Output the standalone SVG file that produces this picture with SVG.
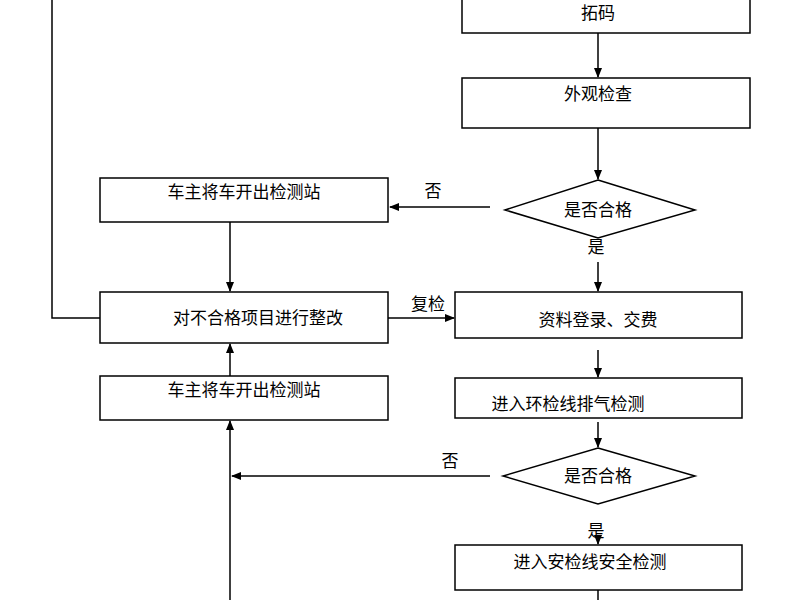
<svg xmlns="http://www.w3.org/2000/svg" width="800" height="600" viewBox="0 0 800 600">
<defs>
<marker id="a" markerWidth="10" markerHeight="10" refX="9" refY="5" orient="auto" markerUnits="userSpaceOnUse"><path d="M0,1 L10,5 L0,9 Z" fill="#000"/></marker>
<style>
.b{fill:#fff;stroke:#000;stroke-width:1.5}
.t{font-family:"Noto Sans CJK SC","Noto Sans",sans-serif;font-size:17px;fill:#000;text-anchor:middle}
.l{stroke:#000;stroke-width:1.5;fill:none}
.ar{stroke:#000;stroke-width:1.5;fill:none;marker-end:url(#a)}
</style>
</defs>
<rect width="800" height="600" fill="#fff"/>
<g id="n1"><rect class="b" x="462" y="-10" width="288" height="43"/><text class="t" x="598" y="19">拓码</text></g>
<g id="n2"><rect class="b" x="462" y="78" width="288" height="50"/><text class="t" x="598" y="100">外观检查</text></g>
<g id="n3"><polygon class="b" points="598,180 695,210 598,238 505,210"/><text class="t" x="598" y="216">是否合格</text></g>
<g id="n4"><rect class="b" x="100" y="178" width="288" height="44"/><text class="t" x="244" y="198">车主将车开出检测站</text></g>
<g id="n5"><rect class="b" x="100" y="292" width="288" height="51"/><text class="t" x="258" y="324">对不合格项目进行整改</text></g>
<g id="n6"><rect class="b" x="455" y="292" width="287" height="46"/><text class="t" x="598" y="326">资料登录、交费</text></g>
<g id="n7"><rect class="b" x="455" y="378" width="287" height="40"/><text class="t" x="568" y="410">进入环检线排气检测</text></g>
<g id="n8"><polygon class="b" points="598,448 695,476 598,504 503,476"/><text class="t" x="598" y="482">是否合格</text></g>
<g id="n9"><rect class="b" x="100" y="376" width="288" height="44"/><text class="t" x="244" y="396">车主将车开出检测站</text></g>
<g id="n10"><rect class="b" x="455" y="545" width="287" height="45"/><text class="t" x="590" y="568">进入安检线安全检测</text></g>
<g id="edges">
<line class="ar" x1="598" y1="33" x2="598" y2="77"/>
<line class="ar" x1="598" y1="128" x2="598" y2="179"/>
<line class="ar" x1="490" y1="207" x2="390" y2="207"/>
<text class="t" x="433" y="197">否</text>
<text class="t" x="596" y="253">是</text>
<line class="ar" x1="598" y1="262" x2="598" y2="291"/>
<line class="ar" x1="230" y1="222" x2="230" y2="291"/>
<polyline class="l" points="100,318 52,318 52,0"/>
<line class="ar" x1="388" y1="318" x2="454" y2="318"/>
<text class="t" x="428" y="310">复检</text>
<line class="ar" x1="598" y1="350" x2="598" y2="377"/>
<line class="ar" x1="598" y1="422" x2="598" y2="447"/>
<line class="ar" x1="490" y1="476" x2="232" y2="476"/>
<text class="t" x="450" y="467">否</text>
<line class="ar" x1="230" y1="600" x2="230" y2="421"/>
<line class="ar" x1="230" y1="376" x2="230" y2="344"/>
<text class="t" x="596" y="537">是</text>
<line class="ar" x1="598" y1="541" x2="598" y2="544"/>
<line class="l" x1="598" y1="590" x2="598" y2="600"/>
</g>
</svg>
